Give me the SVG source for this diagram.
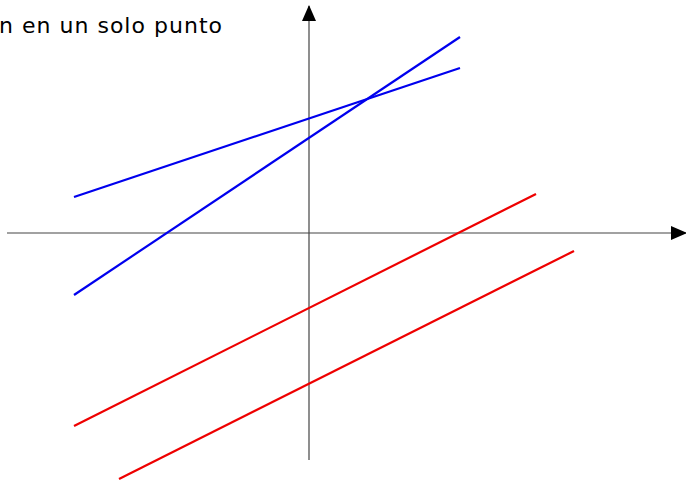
<svg xmlns="http://www.w3.org/2000/svg" width="686" height="480" viewBox="0 0 686 480">
<style>
.axis{stroke:#444;stroke-width:1.2;fill:none}
.blue{stroke:#0000ee;stroke-width:2.2;fill:none}
.red{stroke:#ee0000;stroke-width:2.2;fill:none}
.t{font-family:"DejaVu Sans","Liberation Sans",sans-serif;font-size:22px;fill:#000}
</style>
<defs>
<marker id="arr" viewBox="0 0 16 14" refX="15" refY="7" markerWidth="16" markerHeight="14" markerUnits="userSpaceOnUse" orient="auto">
<path d="M0,0 L16,7 L0,14 Z" fill="#000"/>
</marker>
</defs>
<rect width="686" height="480" fill="#fff"/>
<text class="t" x="-1" y="33" textLength="223" lengthAdjust="spacing">n en un solo punto</text>
<g id="connectors">
<line id="xaxis" class="axis" x1="7" y1="233" x2="686" y2="233" marker-end="url(#arr)"/>
<line id="yaxis" class="axis" x1="309" y1="460" x2="309" y2="6" marker-end="url(#arr)"/>
<line id="blue1" class="blue" x1="74" y1="197" x2="460" y2="68"/>
<line id="blue2" class="blue" x1="74" y1="295" x2="460" y2="37"/>
<line id="red1" class="red" x1="74" y1="426" x2="536" y2="194"/>
<line id="red2" class="red" x1="119" y1="479" x2="574" y2="251"/>
</g>
</svg>
